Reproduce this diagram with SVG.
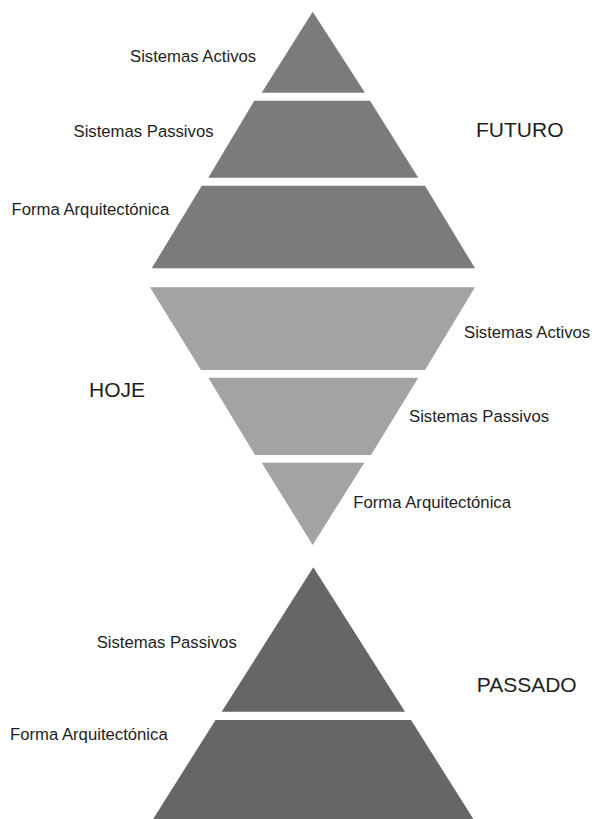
<svg xmlns="http://www.w3.org/2000/svg" width="592" height="819" viewBox="0 0 592 819">
<style>
.t{font-family:"Liberation Sans",Arial,Helvetica,sans-serif;font-size:16.7px;fill:#1e1e1e}
.h{font-family:"Liberation Sans",Arial,Helvetica,sans-serif;font-size:21px;fill:#1e1e1e}
.f{fill:#7b7b7b}
.p{fill:#a3a3a3}
.b{fill:#666666}
</style>
<rect width="592" height="819" fill="#ffffff"/>
<g id="futuro">
<polygon class="f" points="312.7,11.7 365,92.7 261.7,92.7"/>
<polygon class="f" points="254.3,100.7 370,100.7 418.3,177.7 208.3,177.7"/>
<polygon class="f" points="201.7,185.7 425,185.7 475,268.3 151.7,268.3"/>
<text class="t" x="130" y="61.5">Sistemas Activos</text>
<text class="t" x="73.5" y="136.7">Sistemas Passivos</text>
<text class="t" x="11.5" y="215">Forma Arquitectónica</text>
<text class="h" x="476" y="136.7">FUTURO</text>
</g>
<g id="hoje">
<polygon class="p" points="150,287.3 475,287.3 425,370 201,370"/>
<polygon class="p" points="208.3,377.7 418.3,377.7 371,455 255,455"/>
<polygon class="p" points="261.7,462.7 364.3,462.7 312.7,545"/>
<text class="t" x="464" y="338.3">Sistemas Activos</text>
<text class="t" x="409" y="421.7">Sistemas Passivos</text>
<text class="t" x="353.3" y="507.5">Forma Arquitectónica</text>
<text class="h" x="89" y="397">HOJE</text>
</g>
<g id="passado">
<polygon class="b" points="313.3,567.3 405,711.7 221.7,711.7"/>
<polygon class="b" points="215.5,720 411,720 474,820 152.5,820"/>
<text class="t" x="96.7" y="648.3">Sistemas Passivos</text>
<text class="t" x="10" y="740">Forma Arquitectónica</text>
<text class="h" x="476.7" y="692.3">PASSADO</text>
</g>
<g id="connectors"/>
</svg>
